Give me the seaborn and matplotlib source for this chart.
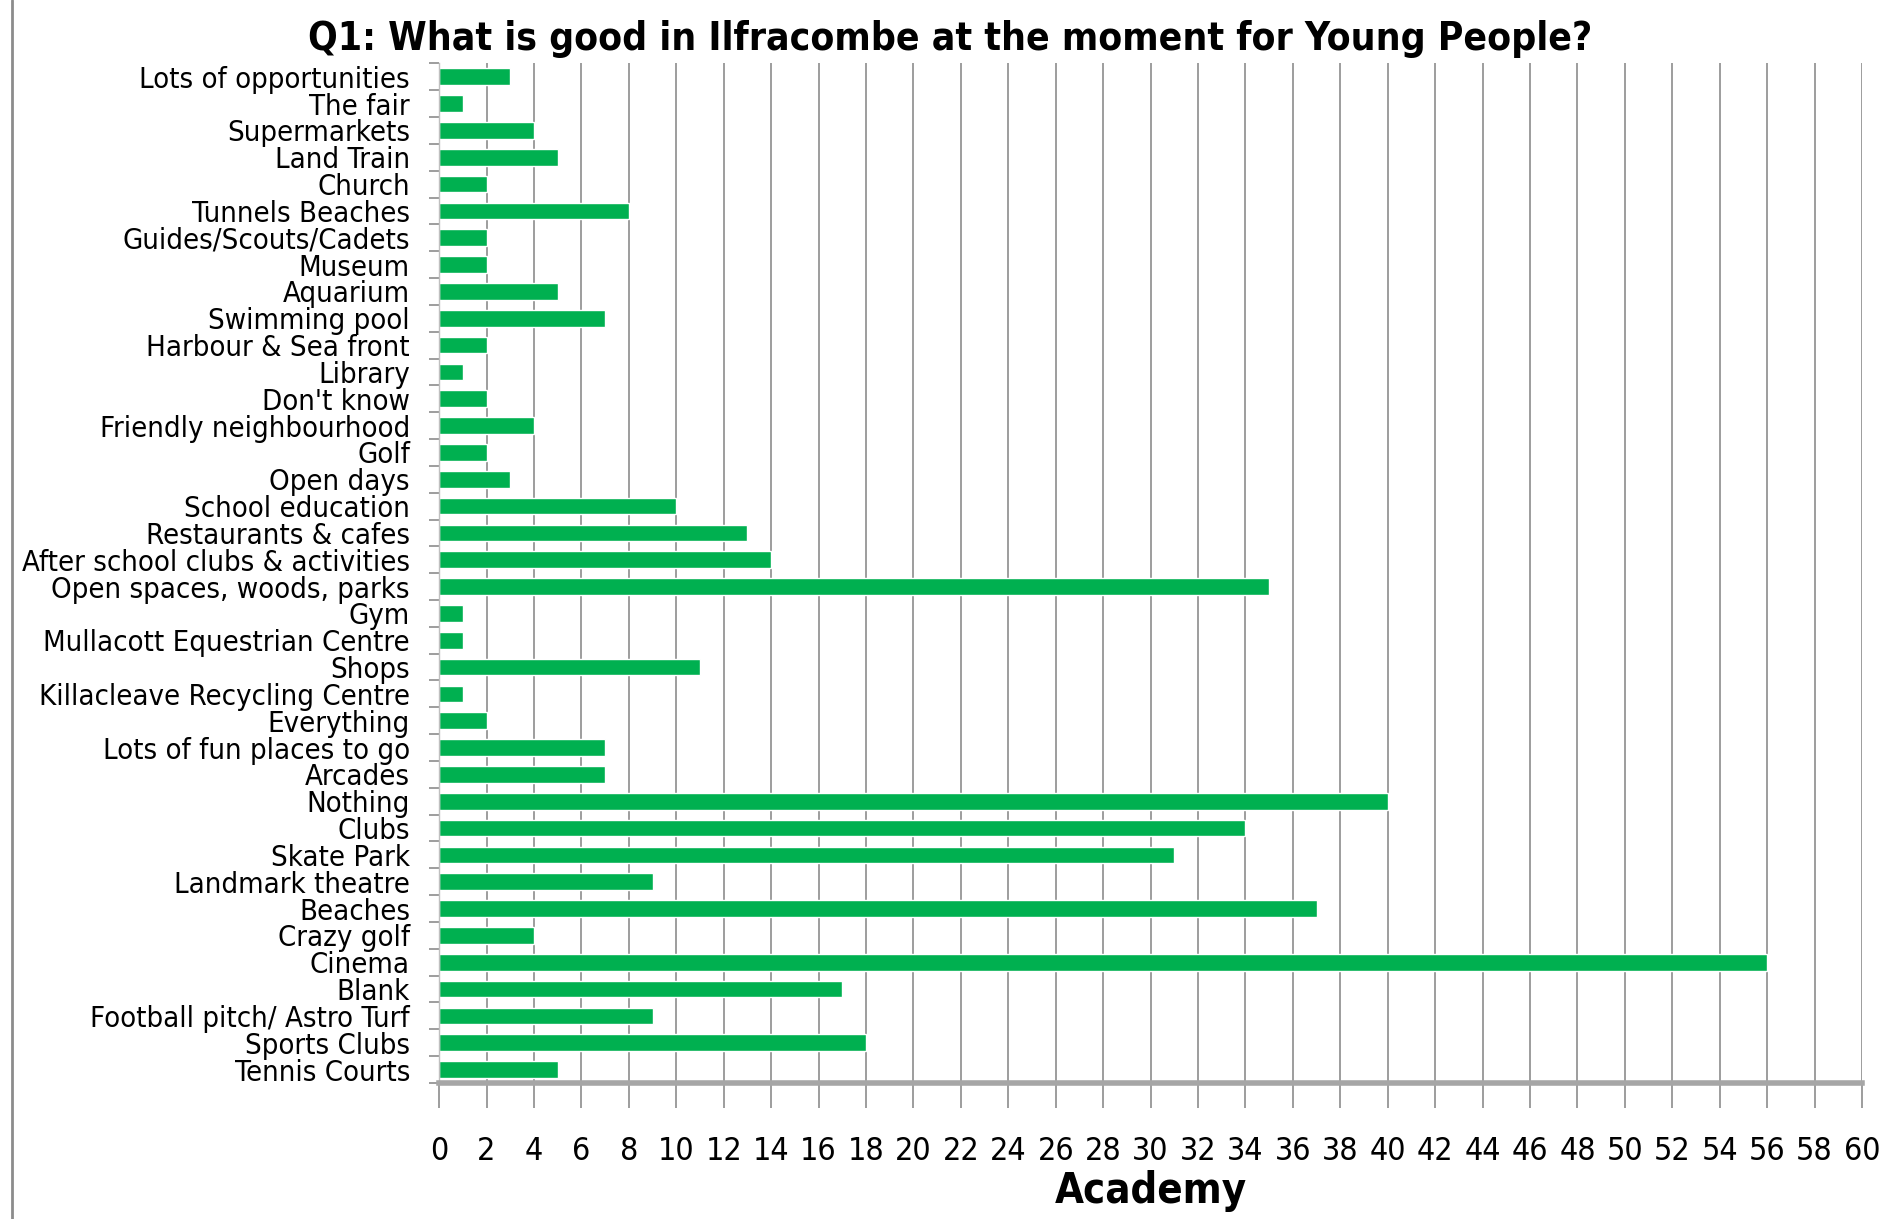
import matplotlib
matplotlib.use('Agg')
import matplotlib.pyplot as plt
import seaborn as sns
import pandas as pd
import numpy as np
from matplotlib.lines import Line2D

# ============================================
# Data (top to bottom as in the chart)
# ============================================
CATEGORIES = [
    'Lots of opportunities', 'The fair', 'Supermarkets', 'Land Train', 'Church',
    'Tunnels Beaches', 'Guides/Scouts/Cadets', 'Museum', 'Aquarium', 'Swimming pool',
    'Harbour & Sea front', 'Library', "Don't know", 'Friendly neighbourhood', 'Golf',
    'Open days', 'School education', 'Restaurants & cafes',
    'After school clubs & activities', 'Open spaces, woods, parks', 'Gym',
    'Mullacott Equestrian Centre', 'Shops', 'Killacleave Recycling Centre',
    'Everything', 'Lots of fun places to go', 'Arcades', 'Nothing', 'Clubs',
    'Skate Park', 'Landmark theatre', 'Beaches', 'Crazy golf', 'Cinema', 'Blank',
    'Football pitch/ Astro Turf', 'Sports Clubs', 'Tennis Courts',
]
VALUES = [3, 1, 4, 5, 2, 8, 2, 2, 5, 7, 2, 1, 2, 4, 2, 3, 10, 13, 14, 35, 1, 1,
          11, 1, 2, 7, 7, 40, 34, 31, 9, 37, 4, 56, 17, 9, 18, 5]
X_TICKS = list(range(0, 61, 2))

TITLE = 'Q1: What is good in Ilfracombe at the moment for Young People?'
XLABEL = 'Academy'
BAR_COLOR = '#00B050'
GRID_COLOR = '#8c8c8c'

sns.set_style('white')
plt.rcParams['font.family'] = ['DejaVu Sans']
plt.rcParams['font.stretch'] = 'condensed'
plt.rcParams['text.color'] = 'black'
plt.rcParams['xtick.color'] = 'black'
plt.rcParams['ytick.color'] = 'black'
plt.rcParams['axes.labelcolor'] = 'black'

df = pd.DataFrame({'category': CATEGORIES, 'count': VALUES})

fig = plt.figure(figsize=(19.01, 12.19), dpi=100)
ax = fig.add_axes([0.231, 0.1116, 0.7485, 0.8364])

sns.barplot(data=df, y='category', x='count', orient='h', color=BAR_COLOR,
            saturation=1, width=0.62, ax=ax)

ax.set_xlim(0, 60)
ax.set_ylim(len(CATEGORIES) - 0.5, -0.5)
ax.set_xticks(X_TICKS)
ax.set_xticklabels([str(t) for t in X_TICKS], fontsize=23)
ax.grid(axis='x', color=GRID_COLOR, linewidth=1.2)
ax.set_axisbelow(True)

# x ticks extend gridlines below the axis, labels sit well below
ax.tick_params(axis='x', direction='out', length=18, width=1.2,
               color=GRID_COLOR, pad=20, bottom=True, labelcolor='black')

# category ticks: labels at centres, small marks at the boundaries
ax.set_yticks(range(len(CATEGORIES)))
ax.set_yticklabels(CATEGORIES, fontsize=21)
ax.tick_params(axis='y', which='major', length=0, pad=21, labelcolor='black')
ax.set_yticks(np.arange(-0.5, len(CATEGORIES), 1), minor=True)
ax.tick_params(axis='y', which='minor', left=True, direction='out', length=7,
               width=1.2, color=GRID_COLOR)

for side in ['top', 'right']:
    ax.spines[side].set_visible(False)
ax.spines['left'].set_color('#bfbfbf')
ax.spines['left'].set_linewidth(1.0)
ax.spines['bottom'].set_color('#a6a6a6')
ax.spines['bottom'].set_linewidth(4)

ax.set_ylabel('')
ax.set_xlabel(XLABEL, fontsize=30, fontweight='bold', labelpad=2)
fig.text(0.5, 0.968, TITLE, ha='center', va='center', fontsize=28,
         fontweight='bold')

# chart border on the left edge
fig.add_artist(Line2D([0.0065, 0.0065], [0, 1], transform=fig.transFigure,
                      color='#8c8c8c', linewidth=2))

fig.savefig('out.png', dpi=100)
